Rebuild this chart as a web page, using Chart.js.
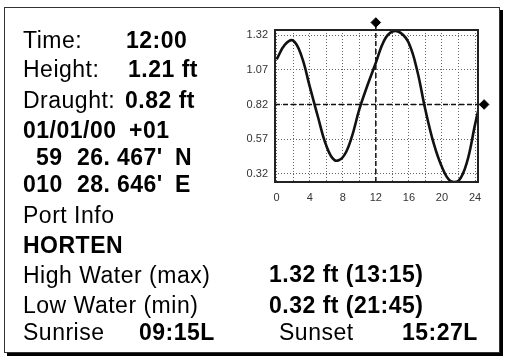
<!DOCTYPE html>
<html>
<head>
<meta charset="utf-8">
<script src="https://cdn.jsdelivr.net/npm/chart.js@4.4.1/dist/chart.umd.min.js"></script>
<style>
  html, body { margin:0; padding:0; background:#fff; }
  body { width:506px; height:357px; position:relative; overflow:hidden; }
  #frame { position:absolute; left:4px; top:7px; width:494px; height:344px; border:1px solid #333; box-shadow:3px 3px 0 #000; background:#fff; }
  #wrap { position:absolute; left:230px; top:15px; width:265px; height:190px; }
  svg { position:absolute; left:0; top:0; }
  text { font-family:"Liberation Sans", Arial, Helvetica, sans-serif; font-size:23px; fill:#000; letter-spacing:0.5px; }
  .b { font-weight:bold; }
</style>
</head>
<body>
<div id="frame"></div>
<div id="wrap"><canvas id="c" width="265" height="190"></canvas></div>
<svg width="506" height="357">
  <text x="23" y="48">Time:</text><text class="b" x="126" y="48">12:00</text>
  <text x="23" y="77">Height:</text><text class="b" x="128" y="77">1.21 ft</text>
  <text x="23" y="108">Draught:</text><text class="b" x="125" y="108">0.82 ft</text>
  <text class="b" x="23" y="138">01/01/00</text><text class="b" x="129" y="138">+01</text>
  <text class="b" x="36" y="165">59</text><text class="b" x="77" y="165">26.</text><text class="b" x="117" y="165">467'</text><text class="b" x="175" y="165">N</text>
  <text class="b" x="23" y="192">010</text><text class="b" x="77" y="192">28.</text><text class="b" x="117" y="192">646'</text><text class="b" x="175" y="192">E</text>
  <text x="23" y="223">Port Info</text>
  <text class="b" x="23" y="253">HORTEN</text>
  <text x="23" y="283">High Water (max)</text><text class="b" x="269" y="282">1.32 ft (13:15)</text>
  <text x="23" y="313">Low Water (min)</text><text class="b" x="269" y="313">0.32 ft (21:45)</text>
  <text x="23" y="340">Sunrise</text><text class="b" x="139" y="340">09:15L</text>
  <text x="279" y="340">Sunset</text><text class="b" x="402" y="340">15:27L</text>
</svg>
<script>
// ---- data ----
const hours   = [0, 1, 2, 3, 4, 5, 6, 7, 8, 9, 10, 11, 12, 13, 14, 15, 16, 17, 18, 19, 20, 21, 22, 23, 24, 24.4];
const heights = [1.145, 1.25, 1.28, 1.17, 0.95, 0.73, 0.525, 0.42, 0.44, 0.57, 0.785, 0.96, 1.12, 1.28, 1.345, 1.335, 1.26, 1.065, 0.78, 0.54, 0.37, 0.27, 0.27, 0.40, 0.675, 0.78];
const yTicks  = [0.32, 0.57, 0.82, 1.07, 1.32];
const xLabels = [0, 4, 8, 12, 16, 20, 24];
const xGridStep = 2;
const markTime = 12;        // current time marker
const draught  = 0.82;      // draught marker
const xRange = [-0.2, 24.36];
const yRange = [0.2624, 1.356];
const markerTop = 1.41;     // diamond above the plot at current time
const markerRight = 25.1;   // diamond right of the plot at draught
const markers = [{ x: markTime, y: markerTop }, { x: markerRight, y: draught }];

const overlay = {
  id: 'overlay',
  afterDatasetsDraw(chart) {
    const a = chart.chartArea, ctx = chart.ctx;
    ctx.save();
    ctx.strokeStyle = '#222';
    ctx.lineWidth = 2;
    ctx.strokeRect(a.left, a.top, a.right - a.left, a.bottom - a.top);
    ctx.fillStyle = '#000';
    ctx.strokeStyle = '#000';
    ctx.lineWidth = 1;
    const xs = chart.scales.x, ys = chart.scales.y;
    markers.forEach(m => {
      Chart.helpers.drawPoint(ctx, { pointStyle: 'rectRot', radius: 4.8, borderWidth: 1, rotation: 0 },
        xs.getPixelForValue(m.x), ys.getPixelForValue(m.y));
    });
    ctx.restore();
  }
};

new Chart(document.getElementById('c'), {
  type: 'scatter',
  data: {
    datasets: [
      {
        data: hours.map((h, i) => ({ x: h, y: heights[i] })),
        showLine: true, borderColor: '#111', borderWidth: 2.6, pointRadius: 0, tension: 0.4, order: 1
      },
      {
        data: [{ x: markTime, y: yRange[0] }, { x: markTime, y: markerTop }],
        showLine: true, borderColor: '#111', borderWidth: 1.5, borderDash: [5, 3],
        pointRadius: 0, clip: false, order: 2
      },
      {
        data: [{ x: xRange[0], y: draught }, { x: markerRight, y: draught }],
        showLine: true, borderColor: '#111', borderWidth: 1.5, borderDash: [5, 3],
        pointRadius: 0, clip: false, order: 2
      }
    ]
  },
  options: {
    responsive: false,
    animation: false,
    devicePixelRatio: 1,
    layout: { padding: { top: 15, right: 17, left: 0, bottom: 0 } },
    plugins: { legend: { display: false }, tooltip: { enabled: false } },
    scales: {
      x: {
        type: 'linear', min: xRange[0], max: xRange[1],
        afterBuildTicks(s) {
          const t = [];
          for (let v = 0; v <= 24; v += xGridStep) t.push({ value: v });
          s.ticks = t;
        },
        afterFit(s) { s.height = 23; },
        ticks: {
          autoSkip: false, maxRotation: 0, padding: 9, color: '#333',
          font: { family: 'Liberation Sans', size: 11 },
          callback: v => xLabels.includes(v) ? String(v) : ''
        },
        grid: { color: '#666', lineWidth: 1, drawTicks: false },
        border: { display: false, dash: [1, 2] }
      },
      y: {
        type: 'linear', min: yRange[0], max: yRange[1],
        afterBuildTicks(s) { s.ticks = yTicks.map(v => ({ value: v })); },
        afterFit(s) { s.width = 45; },
        ticks: {
          padding: 7, color: '#333',
          font: { family: 'Liberation Sans', size: 11 },
          callback: v => Number(v).toFixed(2)
        },
        grid: { color: '#666', lineWidth: 1, drawTicks: false },
        border: { display: false, dash: [1, 2] }
      }
    }
  },
  plugins: [overlay]
});
</script>
</body>
</html>
